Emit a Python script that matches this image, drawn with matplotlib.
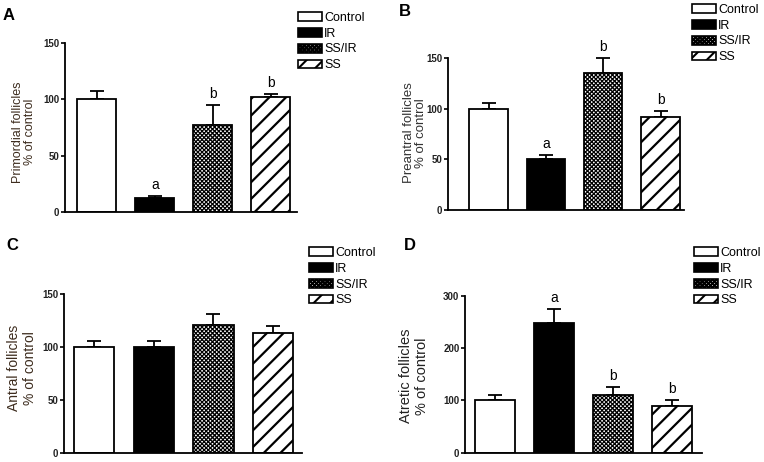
import matplotlib
matplotlib.use("Agg")
import matplotlib.pyplot as plt
from matplotlib.patches import Patch
import numpy as np

plt.rcParams['font.family'] = ['Liberation Sans', 'DejaVu Sans']
plt.rcParams['hatch.linewidth'] = 1.5

groups = ["Control", "IR", "SS/IR", "SS"]

# Panel A: Primordial follicles
a_mean = [100, 12, 77, 102]
a_err = [7, 2, 18, 2.5]
a_sig = ["", "a", "b", "b"]

# Panel B: Preantral follicles
b_mean = [100, 50, 135, 92]
b_err = [6, 4, 15, 6]
b_sig = ["", "a", "b", "b"]

# Panel C: Antral follicles
c_mean = [100, 100, 121, 113]
c_err = [6, 6, 10, 7]
c_sig = ["", "", "", ""]

# Panel D: Atretic follicles
d_mean = [100, 248, 111, 90]
d_err = [10, 27, 15, 11]
d_sig = ["", "a", "b", "b"]

faces = ["white", "black", "white", "white"]
hatches = [None, None, "xxxxxxxx", "//"]
hatch_lw = [1.0, 1.0, 0.9, 1.6]

fig = plt.figure(figsize=(7.64, 4.62), dpi=100)
W, H = 764.0, 462.0

def rect(l, r, bottom_px, top_px):
    return (l / W, 1 - bottom_px / H, (r - l) / W, (bottom_px - top_px) / H)

panels = [
    dict(rect=rect(65, 297, 212, 43), xlim=(-0.55, 3.45), ylim=(0, 150), ticks=[0, 50, 100, 150],
         mean=a_mean, err=a_err, sig=a_sig, letter="A", lpos=(9, 15),
         ylabel="Primordial follicles\n% of control", ypos=(24, 132), yfs=9, ycol="#3d2c1e",
         leg=(298, 12)),
    dict(rect=rect(448, 684, 210, 58), xlim=(-0.71, 3.41), ylim=(0, 150), ticks=[0, 50, 100, 150],
         mean=b_mean, err=b_err, sig=b_sig, letter="B", lpos=(405, 12),
         ylabel="Preantral follicles\n% of control", ypos=(415, 133), yfs=9.5, ycol="#333333",
         leg=(692, 4)),
    dict(rect=rect(64, 302, 453, 294.3), xlim=(-0.5, 3.48), ylim=(0, 150), ticks=[0, 50, 100, 150],
         mean=c_mean, err=c_err, sig=c_sig, letter="C", lpos=(12, 246),
         ylabel="Antral follicles\n% of control", ypos=(22, 368), yfs=10, ycol="#3d2c1e",
         leg=(309, 247)),
    dict(rect=rect(465, 702, 452.7, 296), xlim=(-0.51, 3.51), ylim=(0, 300), ticks=[0, 100, 200, 300],
         mean=d_mean, err=d_err, sig=d_sig, letter="D", lpos=(410, 246),
         ylabel="Atretic follicles\n% of control", ypos=(414, 376), yfs=10.5, ycol="#222222",
         leg=(694, 247)),
]


def style_hatch(patch, h, lw):
    if h:
        patch.set_hatch(h)
        if hasattr(patch, "set_hatch_linewidth"):
            patch.set_hatch_linewidth(lw)


x = np.arange(len(groups))
for p in panels:
    ax = fig.add_axes(p["rect"])
    bars = ax.bar(x, p["mean"], width=0.67, color=faces, edgecolor="black", linewidth=1.3, zorder=2)
    for b, h, lw in zip(bars, hatches, hatch_lw):
        style_hatch(b, h, lw)
    ax.errorbar(x, p["mean"], yerr=[np.zeros(4), p["err"]], fmt="none", ecolor="black",
                elinewidth=1.3, capsize=5, capthick=1.3, zorder=1, clip_on=False)
    for xi, m, e, s in zip(x, p["mean"], p["err"], p["sig"]):
        if s:
            ax.annotate(s, (xi, m + e), xytext=(0, 3), textcoords="offset points",
                        ha="center", va="bottom", fontsize=10, annotation_clip=False)
    ax.set_xlim(*p["xlim"])
    ax.set_ylim(*p["ylim"])
    ax.set_yticks(p["ticks"])
    ax.set_xticks([])
    ax.tick_params(axis="y", length=3, width=1.2, pad=1, labelsize=7)
    for lab in ax.get_yticklabels():
        lab.set_fontweight("bold")
        lab.set_color("#222222")
    for sp in ["top", "right"]:
        ax.spines[sp].set_visible(False)
    for sp in ["left", "bottom"]:
        ax.spines[sp].set_linewidth(1.3)
    fig.text(p["lpos"][0] / W, 1 - p["lpos"][1] / H, p["letter"], fontsize=12, fontweight="bold",
             ha="center", va="center")
    fig.text(p["ypos"][0] / W, 1 - p["ypos"][1] / H, p["ylabel"], rotation=90, ha="center",
             va="center", multialignment="center", fontsize=p["yfs"], color=p["ycol"], linespacing=1.1)
    handles = []
    for f, h, g, lw in zip(faces, hatches, groups, hatch_lw):
        hp = Patch(facecolor=f, edgecolor="black", linewidth=1.2, label=g)
        style_hatch(hp, h, lw)
        handles.append(hp)
    fig.legend(handles=handles, loc="upper left",
               bbox_to_anchor=(p["leg"][0] / W, 1 - p["leg"][1] / H),
               frameon=False, fontsize=9, handlelength=1.9, handleheight=0.7,
               handletextpad=0.2, labelspacing=0.3, borderpad=0, borderaxespad=0)

fig.savefig("out.png", dpi=100)
